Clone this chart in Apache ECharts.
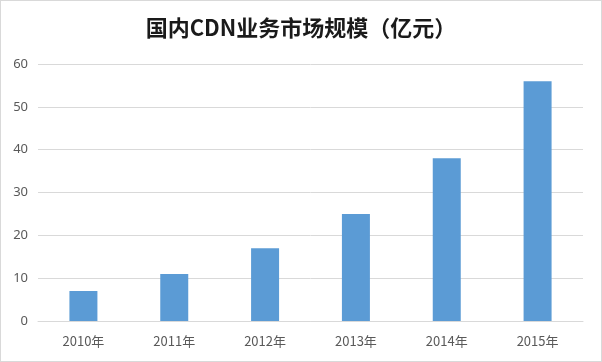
<!DOCTYPE html>
<html>
<head>
<meta charset="utf-8">
<script src="https://cdn.jsdelivr.net/npm/echarts@6/dist/echarts.min.js"></script>
<style>
html,body{margin:0;padding:0;background:#fff;}
#c{width:600px;height:360px;border:1px solid #d9d9d9;}
</style>
</head>
<body>
<div id="c"></div>
<script>
const titleText = '国内CDN业务市场规模（亿元）';
const categories = ['2010年','2011年','2012年','2013年','2014年','2015年'];
const values = [7, 11, 17, 25, 38, 56];
const yTicks = {min: 0, max: 60, interval: 10};

const chart = echarts.init(document.getElementById('c'));
chart.setOption({
  animation: false,
  title: {
    text: titleText,
    left: 'center',
    top: 11,
    textStyle: {fontFamily: '"Noto Sans CJK SC"', fontSize: 22, fontWeight: 'bold', color: '#1a1a1a'}
  },
  grid: {left: 37, right: 18, top: 63, bottom: 40, containLabel: false},
  xAxis: {
    type: 'category',
    data: categories,
    axisLine: {lineStyle: {color: '#d9d9d9'}},
    axisTick: {show: false},
    axisLabel: {color: '#595959', fontSize: 13, margin: 14, fontFamily: '"Noto Sans CJK SC"'}
  },
  yAxis: {
    type: 'value',
    min: yTicks.min, max: yTicks.max, interval: yTicks.interval,
    axisLine: {show: false},
    axisTick: {show: false},
    splitLine: {lineStyle: {color: '#d9d9d9'}},
    axisLabel: {color: '#595959', fontSize: 13, margin: 10, fontFamily: '"Noto Sans", sans-serif'}
  },
  series: [{
    type: 'bar',
    data: values,
    barWidth: 28,
    itemStyle: {color: '#5b9bd5'}
  }]
});
</script>
</body>
</html>
